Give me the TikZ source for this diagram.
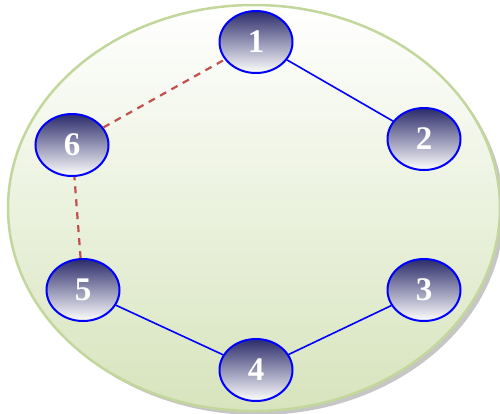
\documentclass[tikz,border=0pt]{standalone}
\usepackage{fontspec}
\setmainfont{Liberation Serif}
\usetikzlibrary{shapes.geometric}
\definecolor{ringgreen}{HTML}{C3D69B}
\definecolor{fillgreen}{HTML}{D7E4BD}
\definecolor{navy}{HTML}{2B2B6B}
\definecolor{dashred}{HTML}{C0504D}
\tikzset{
  site/.style={ellipse, draw=blue, line width=2pt, minimum width=73pt, minimum height=62pt,
    inner sep=0pt, top color=navy, bottom color=white, text=white,
    font=\fontsize{33}{35}\selectfont\bfseries},
  link/.style={draw=blue, line width=1.6pt},
  lost/.style={draw=dashred, line width=2.2pt, dash pattern=on 7pt off 6pt}
}
\begin{document}
\begin{tikzpicture}[x=1pt,y=-1pt]
        \useasboundingbox (0,0) rectangle (500,413);

        % Grand anneau avec ombre
        \fill[gray!45] (258,212) ellipse (246 and 203);
        \shade[top color=white, bottom color=fillgreen, draw=ringgreen, line width=2.5pt]
          (254,208) ellipse (246 and 203);

        % Les sites
        \node[site] (n1) at (256,42) {1};
        \node[site] (n2) at (424,139) {2};
        \node[site] (n3) at (424,290) {3};
        \node[site] (n4) at (256,370) {4};
        \node[site] (n5) at (83,290) {5};
        \node[site] (n6) at (72,145) {6};

        % Liens actifs
        \draw[link] (n1) -- (n2);
        \draw[link] (n3) -- (n4);
        \draw[link] (n4) -- (n5);

        % Liens coupes
        \draw[lost] (n5) -- (n6);
        \draw[lost] (n6) -- (n1);
      \end{tikzpicture}
\end{document}
